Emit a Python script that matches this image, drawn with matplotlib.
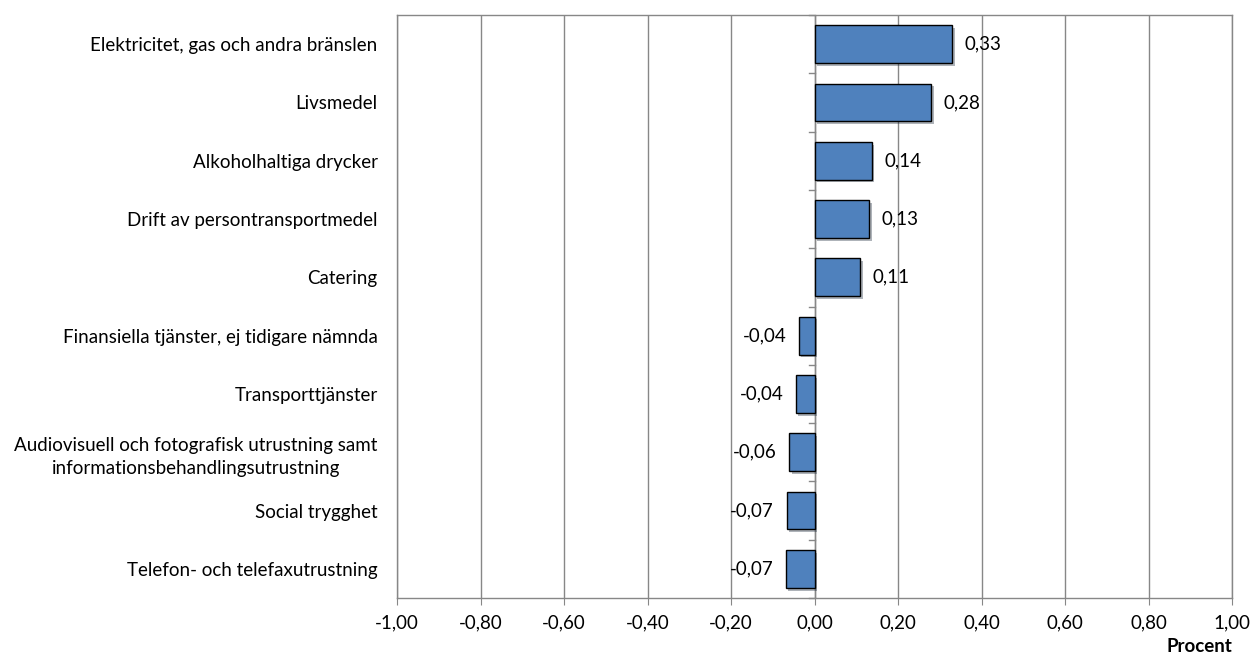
import numpy as np
import matplotlib.pyplot as plt
import matplotlib.patheffects as pe

# Categories, top to bottom
categories = [
    "Elektricitet, gas och andra bränslen",
    "Livsmedel",
    "Alkoholhaltiga drycker",
    "Drift av persontransportmedel",
    "Catering",
    "Finansiella tjänster, ej tidigare nämnda",
    "Transporttjänster",
    "Audiovisuell och fotografisk utrustning samt\ninformationsbehandlingsutrustning",
    "Social trygghet",
    "Telefon- och telefaxutrustning",
]
values = [0.33, 0.28, 0.137, 0.13, 0.11, -0.038, -0.045, -0.06, -0.067, -0.069]
xticks = [-1.0, -0.8, -0.6, -0.4, -0.2, 0.0, 0.2, 0.4, 0.6, 0.8, 1.0]

plt.rcParams['font.family'] = ['Lato', 'DejaVu Sans']
FS = 13.5


def fmt(v):
    return f"{v:.2f}".replace(".", ",")


fig = plt.figure(figsize=(12.53, 6.53), dpi=100)
ax = fig.add_axes([397 / 1253, 1 - 598 / 653, (1232 - 397) / 1253, (598 - 15) / 653])

y = np.arange(len(categories))
bars = ax.barh(y, values, height=0.65, color="#4F81BD", edgecolor="black",
               linewidth=1.0, zorder=3)
for b in bars:
    b.set_path_effects([pe.SimplePatchShadow(offset=(2, -2), alpha=0.35), pe.Normal()])

# Value labels
for yi, v in zip(y, values):
    if v >= 0:
        ax.annotate(fmt(v), (v, yi), xytext=(9, 0), textcoords="offset points",
                    ha="left", va="center", fontsize=FS, zorder=5)
    else:
        ax.annotate(fmt(v), (v, yi), xytext=(-9, 0), textcoords="offset points",
                    ha="right", va="center", fontsize=FS, zorder=5)

ax.set_xlim(-1.0, 1.0)
ax.set_ylim(len(categories) - 0.5, -0.5)
ax.set_xticks(xticks)
ax.set_xticklabels([fmt(t) for t in xticks], fontsize=FS)
ax.set_yticks(y)
ax.set_yticklabels(categories, fontsize=FS, ha="right", multialignment="center",
                   linespacing=1.45)
ax.tick_params(axis="y", length=0, pad=14)
ax.tick_params(axis="x", length=5, color="#878787", pad=7)

ax.grid(axis="x", color="#878787", linewidth=1.0, zorder=0)
for s in ax.spines.values():
    s.set_color("#878787")
    s.set_linewidth(1.0)

# Category axis at zero with boundary ticks pointing left
ax.axvline(0, color="#878787", linewidth=1.0, zorder=2)
for yb in np.arange(-0.5, len(categories) + 0.5, 1.0):
    ax.plot([-0.012, 0], [yb, yb], color="#878787", linewidth=1.0, zorder=2,
            clip_on=False)

ax.text(1.0, -0.068, "Procent", transform=ax.transAxes, ha="right", va="top",
        fontsize=FS, fontweight="bold")

fig.savefig("out.png", dpi=100)
